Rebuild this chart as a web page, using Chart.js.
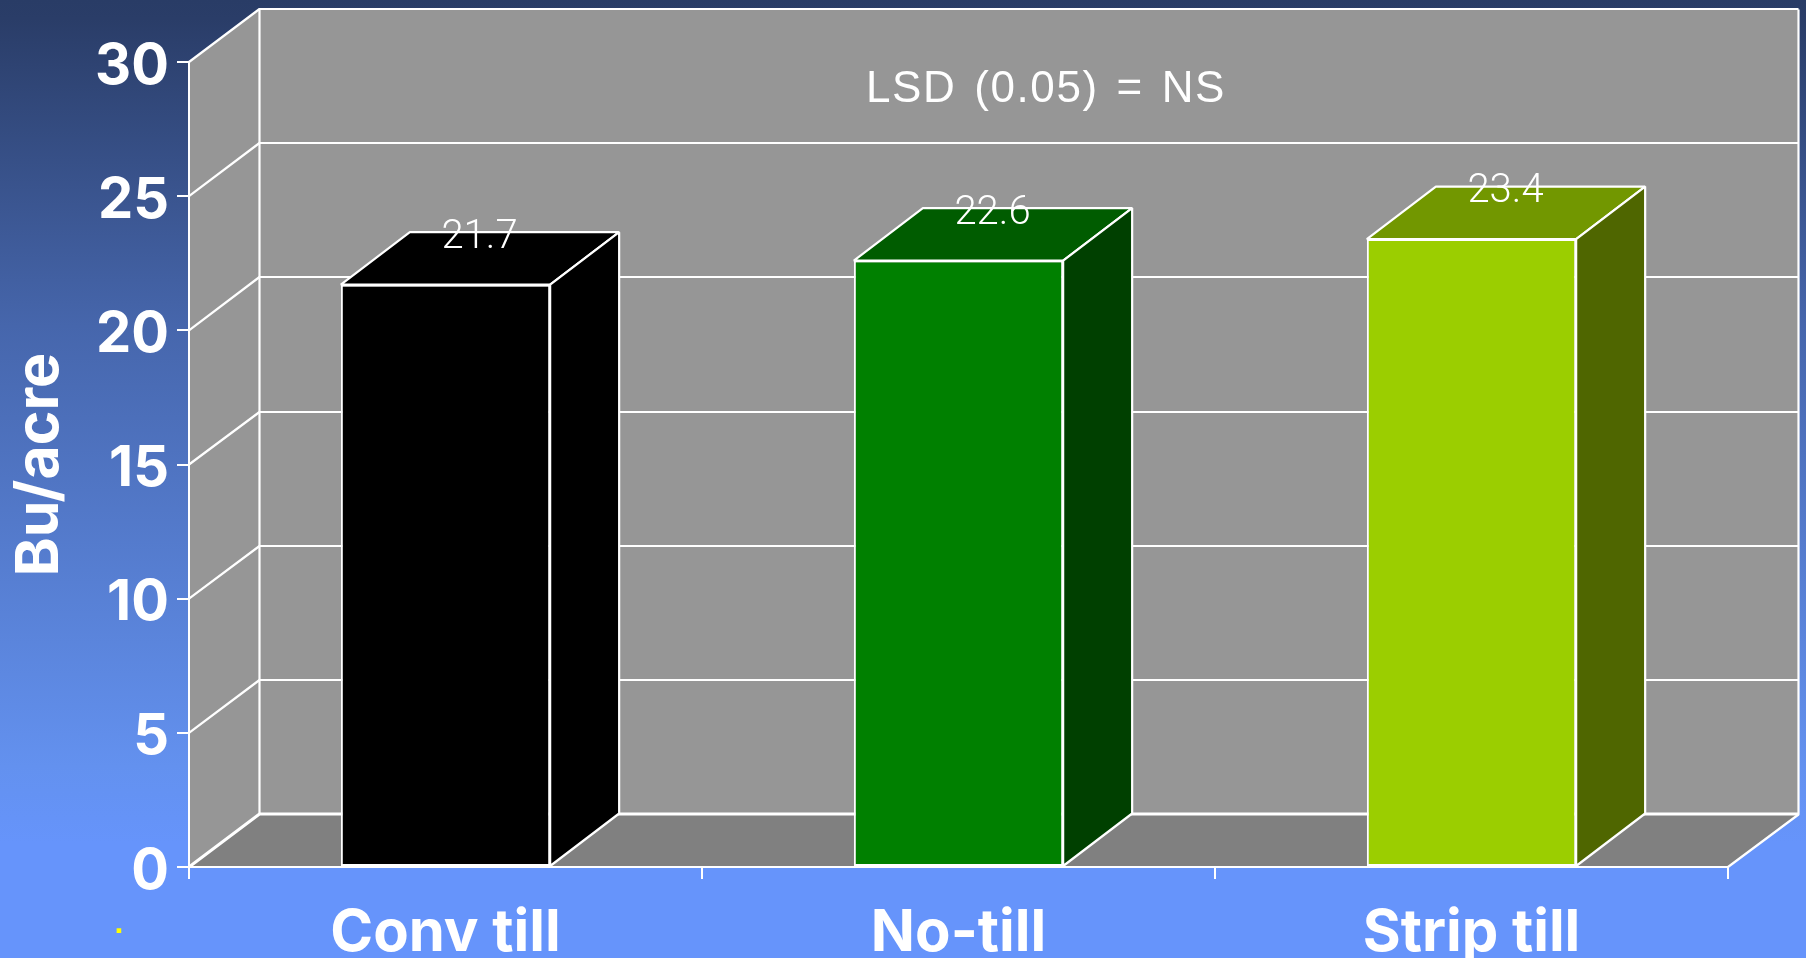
<!DOCTYPE html>
<html><head><meta charset="utf-8">
<style>html,body{margin:0;padding:0;background:#6694fb;overflow:hidden}canvas{display:block}</style>
<script src="https://cdn.jsdelivr.net/npm/chart.js@4"></script>
</head><body><canvas id="c" width="1806" height="958"></canvas>
<script>
const categories = ['Conv till', 'No-till', 'Strip till'];
const values = [21.7, 22.6, 23.4];
const valueLabels = ['21.7', '22.6', '23.4'];
const axisTitle = 'Bu/acre';
const note = 'LSD (0.05) = NS';
const frontColors = ['#000000', '#008000', '#9bce00'];
const topColors = ['#000000', '#005c00', '#729700'];
const sideColors = ['#000000', '#004000', '#4f6600'];
const DX = 70.5, DY = 52.5, BAR_DX = 69;

const scene = {
  id: 'scene',
  beforeDraw(ch) {
    const c = ch.ctx, g = c.createLinearGradient(0, 0, 0, 958);
    g.addColorStop(0, '#293c66'); g.addColorStop(0.02, '#2a3d68');
    g.addColorStop(0.34, '#4666ac'); g.addColorStop(0.8, '#6391ef'); g.addColorStop(0.88, '#6694fb'); g.addColorStop(1, '#6694fb');
    c.fillStyle = g; c.fillRect(0, 0, 1806, 958);
    const a = ch.chartArea, y = ch.scales.y, L = a.left, R = a.right, T = a.top, B = a.bottom;
    c.save();
    c.fillStyle = '#969696';
    c.fillRect(L + DX, T - DY, R - L, B - T);
    c.beginPath(); c.moveTo(L, T); c.lineTo(L + DX, T - DY); c.lineTo(L + DX, B - DY); c.lineTo(L, B); c.closePath(); c.fill();
    c.fillStyle = '#808080';
    c.beginPath(); c.moveTo(L, B); c.lineTo(L + DX, B - DY); c.lineTo(R + DX, B - DY); c.lineTo(R, B); c.closePath(); c.fill();
    c.strokeStyle = '#fff'; c.lineJoin = 'bevel';
    y.ticks.forEach(t => {
      const p = y.getPixelForValue(t.value), q = Math.floor(p - DY);
      c.lineWidth = t.value === 0 ? 3 : 2.2;
      c.beginPath(); c.moveTo(L, p); c.lineTo(L + DX, q); c.lineTo(R + DX, q); c.stroke();
    });
    c.lineWidth = 2.2;
    c.beginPath(); c.moveTo(L + DX, T - DY); c.lineTo(L + DX, B - DY); c.stroke();
    c.beginPath(); c.moveTo(R + DX, T - DY); c.lineTo(R + DX, B - DY); c.lineTo(R, B); c.stroke();
    c.restore();
  },
  afterDatasetsDraw(ch) {
    const c = ch.ctx, m = ch.getDatasetMeta(0);
    c.save(); c.strokeStyle = '#fff'; c.lineWidth = 2.2; c.lineJoin = 'bevel';
    m.data.forEach((b, i) => {
      const l = b.x - b.width / 2, r = b.x + b.width / 2, t = b.y, f = b.base;
      c.fillStyle = topColors[i];
      c.beginPath(); c.moveTo(l, t); c.lineTo(l + BAR_DX, t - DY); c.lineTo(r + BAR_DX, t - DY); c.lineTo(r, t); c.closePath(); c.fill(); c.stroke();
      c.fillStyle = sideColors[i];
      c.beginPath(); c.moveTo(r, t); c.lineTo(r + BAR_DX, t - DY); c.lineTo(r + BAR_DX, f - DY); c.lineTo(r, f); c.closePath(); c.fill(); c.stroke();
    });
    c.restore();
  },
  afterDraw(ch) {
    const c = ch.ctx, m = ch.getDatasetMeta(0), a = ch.chartArea;
    c.save(); c.fillStyle = '#fff'; c.textAlign = 'center'; c.textBaseline = 'middle';
    c.font = '300 40px Roboto';
    m.data.forEach((b, i) => c.fillText(valueLabels[i], b.x + 34, b.y - 47));
    c.font = '44px "Liberation Sans"';
    c.letterSpacing = '1.6px'; c.wordSpacing = '4px';
    c.fillText(note, a.left + 857, 90);
    c.letterSpacing = '0px'; c.wordSpacing = '0px';
    c.fillStyle = '#ffff00'; c.font = 'bold 32px "Liberation Sans"';
    c.fillText('.', 119, 924);
    c.restore();
  }
};

new Chart(document.getElementById('c'), {
  type: 'bar',
  data: { labels: categories, datasets: [{
    data: values, backgroundColor: frontColors, borderColor: '#fff', borderWidth: 2, borderSkipped: false,
    categoryPercentage: 1, barPercentage: 0.408
  }] },
  options: {
    responsive: false, animation: false, devicePixelRatio: 1,
    layout: { padding: { top: 62, right: 78, left: 0, bottom: 0 } },
    plugins: { legend: { display: false }, tooltip: { enabled: false }, title: { display: false } },
    scales: {
      x: {
        afterFit(s) { s.height = 91; },
        grid: { drawOnChartArea: false, drawTicks: true, tickLength: 12, color: '#fff', lineWidth: 2, offset: true },
        border: { color: '#fff', width: 2 },
        ticks: { color: '#fff', font: { family: 'Inter', size: 58, weight: 700 }, padding: 20, maxRotation: 0, autoSkip: false }
      },
      y: {
        min: 0, max: 30,
        afterFit(s) { s.width = 189; },
        grid: { drawOnChartArea: false, drawTicks: true, tickLength: 12, color: '#fff', lineWidth: 2 },
        border: { color: '#fff', width: 2 },
        ticks: { stepSize: 5, color: '#fff', font: { family: 'Inter', size: 56, weight: 700, lineHeight: 0.17 }, padding: 8, callback: v => ['', String(v)] },
        title: { display: true, text: axisTitle, color: '#fff', font: { family: 'Inter', size: 59, weight: 700 }, padding: { top: 5, bottom: 0 } }
      }
    }
  },
  plugins: [scene]
});
</script></body></html>
